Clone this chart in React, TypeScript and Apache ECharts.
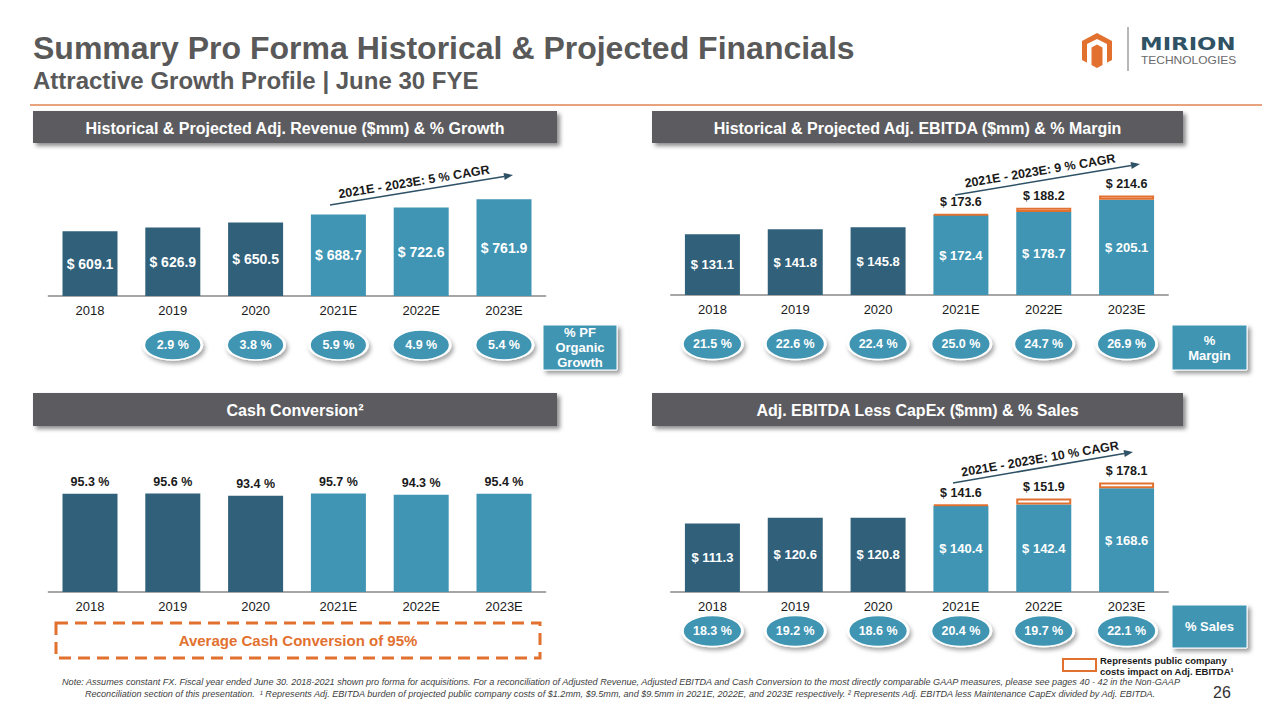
import React, { useEffect, useRef } from "react";
import * as echarts from "echarts";

// ---------- DATA ----------
const years = ["2018", "2019", "2020", "2021E", "2022E", "2023E"];
const revenue = [609.1, 626.9, 650.5, 688.7, 722.6, 761.9];
const organicGrowth = [null, 2.9, 3.8, 5.9, 4.9, 5.4];
const ebitda = [131.1, 141.8, 145.8, 172.4, 178.7, 205.1];
const ebitdaPublicCosts = [null, null, null, 1.2, 9.5, 9.5];
const ebitdaTotal = [null, null, null, 173.6, 188.2, 214.6];
const ebitdaMargin = [21.5, 22.6, 22.4, 25.0, 24.7, 26.9];
const cashConversion = [95.3, 95.6, 93.4, 95.7, 94.3, 95.4];
const capexBase = [111.3, 120.6, 120.8, 140.4, 142.4, 168.6];
const capexPublicCosts = [null, null, null, 1.2, 9.5, 9.5];
const capexTotal = [null, null, null, 141.6, 151.9, 178.1];
const pctSales = [18.3, 19.2, 18.6, 20.4, 19.7, 22.1];
const historicalCount = 3;

// ---------- STYLE ----------
const DARK = "#30607A";
const LIGHT = "#3F95B3";
const ORANGE = "#E2712F";
const HDR = "#5B5C60";
const TXT = "#1A1A1A";
const FONT = '"Liberation Sans", Arial, Helvetica, sans-serif';
const ELLIPSE = "path://M-1,0A1,1,0,1,1,1,0A1,1,0,1,1,-1,0Z";

const barColor = (p: any) => (p.dataIndex < historicalCount ? DARK : LIGHT);

function xAxis(gridIndex: number, show: boolean) {
  return {
    type: "category",
    gridIndex,
    data: years,
    show,
    axisLine: { show, lineStyle: { color: "#A6A6A6", width: 2 } },
    axisTick: { show: false },
    axisLabel: { show, color: TXT, fontSize: 13, fontFamily: FONT, margin: 8 },
    splitLine: { show: false },
  };
}
function yAxis(gridIndex: number, min: number, max: number) {
  return { type: "value", gridIndex, min, max, show: false, splitLine: { show: false } };
}

function pillSeries(idx: number, values: (number | null)[], size: number[]) {
  const data: any[] = [];
  values.forEach((v, i) => {
    if (v != null) data.push([years[i], 0.5, v]);
  });
  return {
    type: "scatter",
    xAxisIndex: idx,
    yAxisIndex: idx,
    data,
    symbol: ELLIPSE,
    symbolSize: size,
    clip: false,
    silent: true,
    itemStyle: {
      color: LIGHT,
      borderColor: "#fff",
      borderWidth: 2,
      shadowBlur: 4,
      shadowOffsetX: 2,
      shadowOffsetY: 3,
      shadowColor: "rgba(0,0,0,0.35)",
      opacity: 1,
    },
    label: {
      show: true,
      position: "inside",
      formatter: (p: any) => p.value[2].toFixed(1) + " %",
      color: "#fff",
      fontWeight: "bold",
      fontSize: 12.5,
      fontFamily: FONT,
    },
    z: 3,
  };
}

function innerLabel(size: number) {
  return {
    show: true,
    position: "inside",
    color: "#fff",
    fontWeight: "bold",
    fontSize: size,
    fontFamily: FONT,
    formatter: (p: any) => "$ " + Number(p.value).toFixed(1),
  };
}

function costSeries(idx: number, values: (number | null)[], totals: (number | null)[]) {
  return {
    type: "bar",
    xAxisIndex: idx,
    yAxisIndex: idx,
    stack: "s" + idx,
    barWidth: 55,
    data: values.map((v) => (v == null ? "-" : v)),
    itemStyle: { color: "#fff", borderColor: ORANGE, borderWidth: 2 },
    label: {
      show: true,
      position: "top",
      distance: 5,
      color: TXT,
      fontWeight: "bold",
      fontSize: 12.5,
      fontFamily: FONT,
      formatter: (p: any) => "$ " + (totals[p.dataIndex] as number).toFixed(1),
    },
    silent: true,
  };
}

// ---------- GRAPHIC HELPERS ----------
function header(x: number, y: number, w: number, h: number, text: string) {
  return [
    {
      type: "rect",
      shape: { x, y, width: w, height: h },
      style: {
        fill: HDR,
        shadowBlur: 4,
        shadowOffsetX: 3,
        shadowOffsetY: 3,
        shadowColor: "rgba(0,0,0,0.45)",
      },
    },
    {
      type: "text",
      x: x + w / 2,
      y: y + h / 2 + 1,
      style: {
        text,
        fill: "#fff",
        font: `bold 16px ${FONT}`,
        align: "center",
        verticalAlign: "middle",
      },
    },
  ];
}

function sideBox(x: number, y: number, w: number, h: number, text: string) {
  return [
    {
      type: "rect",
      shape: { x, y, width: w, height: h },
      style: {
        fill: LIGHT,
        stroke: "#fff",
        lineWidth: 1,
        shadowBlur: 4,
        shadowOffsetX: 3,
        shadowOffsetY: 3,
        shadowColor: "rgba(0,0,0,0.4)",
      },
    },
    {
      type: "text",
      x: x + w / 2,
      y: y + h / 2,
      style: {
        text,
        fill: "#fff",
        font: `bold 13px ${FONT}`,
        align: "center",
        verticalAlign: "middle",
        lineHeight: 15,
      },
    },
  ];
}

function cagr(x1: number, y1: number, x2: number, y2: number, text: string, tx: number, ty: number) {
  const dx = x2 - x1;
  const dy = y2 - y1;
  const len = Math.sqrt(dx * dx + dy * dy);
  const ux = dx / len;
  const uy = dy / len;
  const hl = 9;
  const hw = 3.5;
  const bx = x2 - ux * hl;
  const by = y2 - uy * hl;
  const ang = Math.atan2(-dy, dx);
  return [
    {
      type: "line",
      shape: { x1, y1, x2: bx, y2: by },
      style: { stroke: "#2E5166", lineWidth: 1.6 },
    },
    {
      type: "polygon",
      shape: {
        points: [
          [x2, y2],
          [bx - uy * hw, by + ux * hw],
          [bx + uy * hw, by - ux * hw],
        ],
      },
      style: { fill: "#2E5166" },
    },
    {
      type: "text",
      x: tx,
      y: ty,
      rotation: ang,
      style: {
        text,
        fill: TXT,
        font: `bold 12.5px ${FONT}`,
        align: "center",
        verticalAlign: "middle",
      },
    },
  ];
}

const note1 =
  "Note: Assumes constant FX. Fiscal year ended June 30. 2018-2021 shown pro forma for acquisitions. For a reconciliation of Adjusted Revenue, Adjusted EBITDA and Cash Conversion to the most directly comparable GAAP measures, please see pages 40 - 42 in the Non-GAAP";
const note2 =
  "Reconciliation section of this presentation.  \u00B9 Represents Adj. EBITDA burden of projected public company costs of $1.2mm, $9.5mm, and $9.5mm in 2021E, 2022E, and 2023E respectively. \u00B2 Represents Adj. EBITDA less Maintenance CapEx divided by Adj. EBITDA.";

function buildOption() {
  const graphics: any[] = [
    // title
    {
      type: "text",
      x: 33,
      y: 48,
      style: {
        text: "Summary Pro Forma Historical & Projected Financials",
        fill: "#595959",
        font: `bold 32px ${FONT}`,
        verticalAlign: "middle",
      },
    },
    {
      type: "text",
      x: 33,
      y: 80,
      style: {
        text: "Attractive Growth Profile | June 30 FYE",
        fill: "#595959",
        font: `bold 24px ${FONT}`,
        verticalAlign: "middle",
      },
    },
    {
      type: "line",
      shape: { x1: 30, y1: 105, x2: 1262, y2: 105 },
      style: { stroke: "#E08450", lineWidth: 1.5 },
    },
    // logo
    {
      type: "polygon",
      shape: {
        points: [
          [1097, 33],
          [1112, 41],
          [1112, 60],
          [1097, 68],
          [1082, 60],
          [1082, 41],
        ],
      },
      style: { fill: ORANGE },
    },
    {
      type: "polygon",
      shape: {
        points: [
          [1087, 64],
          [1087, 44],
          [1097, 39],
          [1107, 44],
          [1107, 64],
          [1102.5, 66.5],
          [1102.5, 47.5],
          [1097, 44.5],
          [1091.5, 47.5],
          [1091.5, 66.5],
        ],
      },
      style: { fill: "#fff" },
    },
    {
      type: "polygon",
      shape: {
        points: [
          [1095, 47],
          [1099, 47],
          [1099, 58],
          [1097, 60],
          [1095, 58],
        ],
      },
      style: { fill: ORANGE },
    },
    {
      type: "line",
      shape: { x1: 1128, y1: 27, x2: 1128, y2: 71 },
      style: { stroke: "#A0A0A0", lineWidth: 1.5 },
    },
    {
      type: "text",
      x: 1140,
      y: 44,
      scaleX: 1.34,
      style: {
        text: "MIRION",
        fill: "#2F5264",
        font: `bold 17px "DejaVu Sans", ${FONT}`,
        verticalAlign: "middle",
      },
    },
    {
      type: "text",
      x: 1141,
      y: 60,
      scaleX: 1.2,
      style: {
        text: "TECHNOLOGIES",
        fill: "#6A6A6A",
        font: `10px ${FONT}`,
        verticalAlign: "middle",
      },
    },
    // headers
    ...header(33, 111, 524, 32, "Historical & Projected Adj. Revenue ($mm) & % Growth"),
    ...header(652, 111, 531, 32, "Historical & Projected Adj. EBITDA ($mm) & % Margin"),
    ...header(33, 393, 524, 33, "Cash Conversion\u00B2"),
    ...header(652, 393, 531, 33, "Adj. EBITDA Less CapEx ($mm) & % Sales"),
    // side boxes
    ...sideBox(543, 325, 74, 45, "% PF\nOrganic\nGrowth"),
    ...sideBox(1172, 325, 75, 45, "%\nMargin"),
    ...sideBox(1172, 605, 75, 43, "% Sales"),
    // CAGR arrows
    ...cagr(330, 205, 513, 175, "2021E - 2023E: 5 % CAGR", 414, 182),
    ...cagr(955, 195, 1140, 164, "2021E - 2023E: 9 % CAGR", 1040, 171),
    ...cagr(953, 483, 1133, 452, "2021E - 2023E: 10 % CAGR", 1040, 459),
    // dashed box
    {
      type: "rect",
      shape: { x: 56, y: 623, width: 484, height: 35 },
      style: { fill: "none", stroke: ORANGE, lineWidth: 3, lineDash: [12, 7] },
    },
    {
      type: "text",
      x: 298,
      y: 640,
      style: {
        text: "Average Cash Conversion of 95%",
        fill: ORANGE,
        font: `bold 15px ${FONT}`,
        align: "center",
        verticalAlign: "middle",
      },
    },
    // legend
    {
      type: "rect",
      shape: { x: 1063, y: 659, width: 33, height: 12 },
      style: { fill: "#fff", stroke: ORANGE, lineWidth: 2 },
    },
    {
      type: "text",
      x: 1100,
      y: 660,
      style: {
        text: "Represents public company",
        fill: TXT,
        font: `bold 9.5px ${FONT}`,
        verticalAlign: "middle",
      },
    },
    {
      type: "text",
      x: 1100,
      y: 671,
      style: {
        text: "costs impact on Adj. EBITDA\u00B9",
        fill: TXT,
        font: `bold 9.5px ${FONT}`,
        verticalAlign: "middle",
      },
    },
    // footnote
    {
      type: "text",
      x: 621,
      y: 682,
      style: {
        text: note1,
        fill: "#404040",
        font: `italic 9.1px ${FONT}`,
        align: "center",
        verticalAlign: "middle",
      },
    },
    {
      type: "text",
      x: 620,
      y: 694,
      style: {
        text: note2,
        fill: "#404040",
        font: `italic 9.1px ${FONT}`,
        align: "center",
        verticalAlign: "middle",
      },
    },
    {
      type: "text",
      x: 1222,
      y: 692,
      style: {
        text: "26",
        fill: "#333",
        font: `16px ${FONT}`,
        align: "center",
        verticalAlign: "middle",
      },
    },
  ];

  return {
    animation: false,
    backgroundColor: "#fff",
    textStyle: { fontFamily: FONT },
    grid: [
      { left: 48.6, width: 496.8, top: 149.4, height: 146.6, outerBoundsMode: "none" },
      { left: 671, width: 497, top: 155.8, height: 139.2, outerBoundsMode: "none" },
      { left: 48.6, width: 496.8, top: 489, height: 103, outerBoundsMode: "none" },
      { left: 671, width: 497, top: 438.2, height: 153.8, outerBoundsMode: "none" },
      { left: 48.6, width: 496.8, top: 330, height: 30, outerBoundsMode: "none" },
      { left: 671, width: 497, top: 329, height: 30, outerBoundsMode: "none" },
      { left: 671, width: 497, top: 616, height: 30, outerBoundsMode: "none" },
    ],
    xAxis: [
      xAxis(0, true),
      xAxis(1, true),
      xAxis(2, true),
      xAxis(3, true),
      xAxis(4, false),
      xAxis(5, false),
      xAxis(6, false),
    ],
    yAxis: [
      yAxis(0, 300, 1000),
      yAxis(1, 0, 300),
      yAxis(2, 0, 100),
      yAxis(3, 0, 250),
      yAxis(4, 0, 1),
      yAxis(5, 0, 1),
      yAxis(6, 0, 1),
    ],
    series: [
      {
        type: "bar",
        xAxisIndex: 0,
        yAxisIndex: 0,
        barWidth: 55,
        data: revenue,
        itemStyle: { color: barColor },
        label: innerLabel(14),
        silent: true,
      },
      {
        type: "bar",
        xAxisIndex: 1,
        yAxisIndex: 1,
        stack: "s1",
        barWidth: 55,
        data: ebitda,
        itemStyle: { color: barColor },
        label: innerLabel(13),
        silent: true,
      },
      costSeries(1, ebitdaPublicCosts, ebitdaTotal),
      {
        type: "bar",
        xAxisIndex: 2,
        yAxisIndex: 2,
        barWidth: 55,
        data: cashConversion,
        itemStyle: { color: barColor },
        label: {
          show: true,
          position: "top",
          distance: 5,
          color: TXT,
          fontWeight: "bold",
          fontSize: 12.5,
          fontFamily: FONT,
          formatter: (p: any) => Number(p.value).toFixed(1) + " %",
        },
        silent: true,
      },
      {
        type: "bar",
        xAxisIndex: 3,
        yAxisIndex: 3,
        stack: "s3",
        barWidth: 55,
        data: capexBase,
        itemStyle: { color: barColor },
        label: innerLabel(13),
        silent: true,
      },
      costSeries(3, capexPublicCosts, capexTotal),
      pillSeries(4, organicGrowth, [58, 30]),
      pillSeries(5, ebitdaMargin, [60, 31]),
      pillSeries(6, pctSales, [60, 31]),
    ],
    graphic: graphics,
  };
}

export default function App() {
  const ref = useRef<HTMLDivElement>(null);
  useEffect(() => {
    if (!ref.current) return;
    const chart = echarts.init(ref.current, null, { renderer: "svg" });
    chart.setOption(buildOption() as any);
    return () => chart.dispose();
  }, []);
  return (
    <div
      ref={ref}
      style={{ position: "fixed", left: 0, top: 0, width: 1280, height: 720, background: "#fff" }}
    />
  );
}
